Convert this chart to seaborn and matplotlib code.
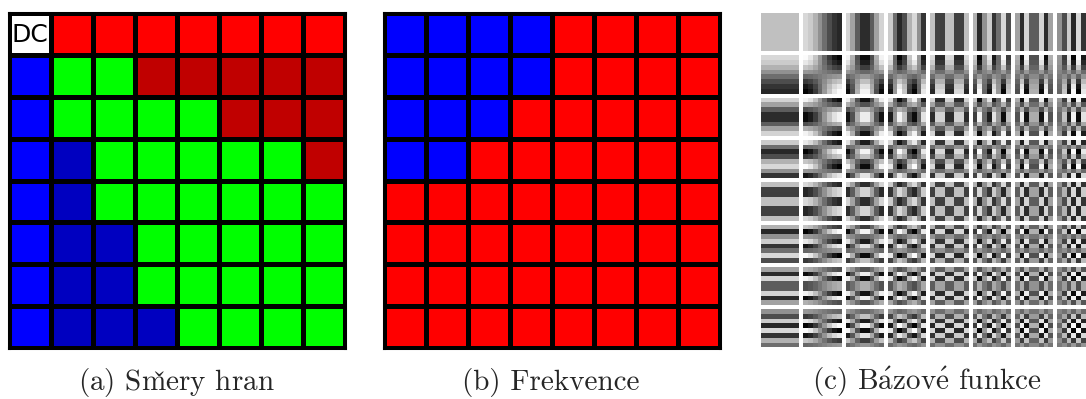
import numpy as np
import matplotlib
matplotlib.use("Agg")
import matplotlib.pyplot as plt
import seaborn as sns
from matplotlib.colors import ListedColormap

sns.set_theme(style="white")
plt.rcParams["font.family"] = ["cmr10", "DejaVu Serif"]
plt.rcParams["mathtext.fontset"] = "cm"

# (a) edge directions: D=DC, R=red, K=dark red, B=blue, N=dark blue, G=green
smery = [
    "DRRRRRRR",
    "BGGKKKKK",
    "BGGGGKKK",
    "BNGGGGGK",
    "BNGGGGGG",
    "BNNGGGGG",
    "BNNGGGGG",
    "BNNNGGGG",
]
smery_keys = ["D", "R", "K", "B", "N", "G"]
smery_colors = ["#ffffff", "#ff0000", "#c00000", "#0000ff", "#0000c0", "#00ff00"]

# (b) frequencies: L=low (blue), H=high (red)
frekvence = [
    "LLLLHHHH",
    "LLLLHHHH",
    "LLLHHHHH",
    "LLHHHHHH",
    "HHHHHHHH",
    "HHHHHHHH",
    "HHHHHHHH",
    "HHHHHHHH",
]
frek_keys = ["L", "H"]
frek_colors = ["#0000ff", "#ff0000"]

captions = [
    r"(a) Sm$\check{\mathrm{e}}$ry hran",
    "(b) Frekvence",
    r"(c) B$\acute{\mathrm{a}}$zov$\acute{\mathrm{e}}$ funkce",
]

N = 8

W, H = 1086, 399
fig = plt.figure(figsize=(W / 100, H / 100), dpi=100)


def px_axes(x0, y0, w, h):
    return fig.add_axes([x0 / W, 1 - (y0 + h) / H, w / W, h / H])


def grid_panel(ax, rows, keys, colors):
    m = np.array([[keys.index(c) for c in r] for r in rows])
    sns.heatmap(m, cmap=ListedColormap(colors), vmin=-0.5, vmax=len(keys) - 0.5,
                linewidths=2.2, linecolor="black", cbar=False,
                xticklabels=False, yticklabels=False, square=False, ax=ax)
    for s in ax.spines.values():
        s.set_visible(True)
        s.set_color("black")
        s.set_linewidth(2.2)


ax_a = px_axes(9, 13, 336, 335)
grid_panel(ax_a, smery, smery_keys, smery_colors)
ax_a.text(0.5, 0.52, "DC", ha="center", va="center", fontsize=18,
          family="DejaVu Sans", color="black")

ax_b = px_axes(384, 13, 336, 335)
grid_panel(ax_b, frekvence, frek_keys, frek_colors)

# (c) DCT basis functions
n = np.arange(N)
c = np.where(n == 0, np.sqrt(1 / N), np.sqrt(2 / N))
basis_1d = c[:, None] * np.cos((2 * n[None, :] + 1) * n[:, None] * np.pi / (2 * N))
pitch, size = 42.3, 38.3
for u in range(N):
    for v in range(N):
        block = np.outer(basis_1d[u], basis_1d[v])
        ax = px_axes(761 + v * pitch, 13 + u * pitch, size, size)
        sns.heatmap(block, cmap="gray", vmin=-0.25, vmax=0.25, cbar=False,
                    xticklabels=False, yticklabels=False, ax=ax)

centers = [176, 551, 927]
for cx, txt in zip(centers, captions):
    fig.text(cx / W, 1 - 390 / H, txt, ha="center", va="baseline", fontsize=21)

fig.savefig("out.png", dpi=100)
